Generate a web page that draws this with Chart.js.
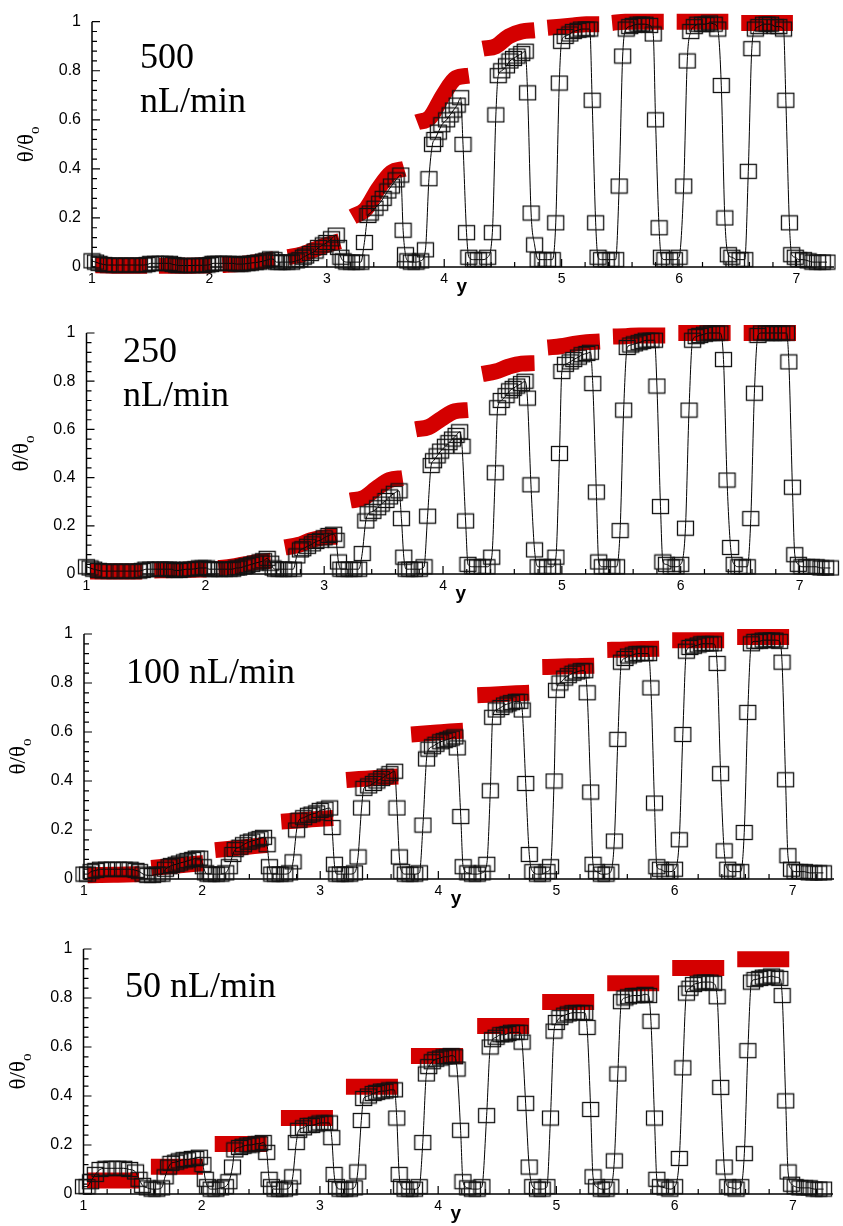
<!DOCTYPE html>
<html>
<head>
<meta charset="utf-8">
<script src="https://cdn.jsdelivr.net/npm/chart.js@4.4.0/dist/chart.umd.min.js"></script>
<style>
  body { margin: 0; background: #fff; }
  #wrap { position: relative; width: 843px; height: 1226px; background: #fff; }
  canvas { position: absolute; left: 0; }
</style>
</head>
<body>
<div id="wrap">
  <canvas id="c500" width="843" height="300" style="top:0px"></canvas>
  <canvas id="c250" width="843" height="310" style="top:300px"></canvas>
  <canvas id="c100" width="843" height="310" style="top:610px"></canvas>
  <canvas id="c50" width="843" height="306" style="top:920px"></canvas>
</div>
<script>
// sample positions along y (shared by all four flow rates), one row per pulse
var position = [
  1.00,1.03,1.06,1.10,1.14,1.19,1.24,1.29,1.34,1.39,1.44,1.47,1.50,1.54,1.58,1.62,1.66,
  1.69,1.72,1.74,1.78,1.81,1.85,1.88,1.92,1.95,1.98,2.01,2.03,2.05,2.08,2.12,2.16,2.20,
  2.23,2.26,2.28,2.32,2.35,2.39,2.42,2.46,2.49,2.52,2.55,2.57,2.59,2.62,2.66,2.70,2.74,
  2.77,2.80,2.82,2.86,2.90,2.93,2.97,3.00,3.04,3.08,3.10,3.12,3.14,3.17,3.21,3.25,3.29,
  3.32,3.35,3.37,3.41,3.45,3.48,3.52,3.55,3.59,3.63,3.65,3.67,3.69,3.72,3.76,3.80,3.84,
  3.87,3.90,3.92,3.95,3.98,4.02,4.05,4.08,4.11,4.14,4.16,4.19,4.21,4.25,4.29,4.33,4.37,
  4.41,4.44,4.46,4.49,4.53,4.56,4.59,4.62,4.66,4.69,4.71,4.74,4.77,4.80,4.84,4.88,4.92,
  4.95,4.98,5.00,5.03,5.07,5.10,5.14,5.17,5.21,5.24,5.26,5.29,5.31,5.34,5.38,5.42,5.46,
  5.49,5.52,5.55,5.58,5.61,5.65,5.68,5.71,5.75,5.78,5.80,5.83,5.85,5.88,5.92,5.96,6.00,
  6.04,6.07,6.10,6.13,6.16,6.20,6.23,6.26,6.30,6.33,6.36,6.39,6.42,6.45,6.49,6.52,6.56,
  6.59,6.62,6.65,6.68,6.72,6.75,6.78,6.82,6.85,6.89,6.91,6.94,6.96,6.99,7.02,7.06,7.10,7.14,7.18,7.22,7.26
];

var theta500 = [
  0.025,0.02,0.015,0.01,0.008,0.008,0.008,0.008,0.008,0.008,0.008,0.01,0.015,0.015,0.015,0.015,0.015,
  0.01,0.008,0.006,0.006,0.006,0.006,0.007,0.007,0.007,0.008,0.01,0.015,0.015,0.015,0.015,0.015,0.015,
  0.012,0.012,0.012,0.014,0.016,0.018,0.02,0.024,0.028,0.033,0.03,0.02,0.02,0.02,0.02,0.02,0.025,
  0.03,0.04,0.045,0.055,0.065,0.08,0.09,0.10,0.115,0.13,0.08,0.04,0.025,0.02,0.02,0.02,0.02,
  0.10,0.21,0.22,0.24,0.26,0.28,0.31,0.33,0.355,0.375,0.15,0.05,0.025,0.02,0.02,0.025,0.07,
  0.36,0.50,0.52,0.55,0.58,0.60,0.62,0.64,0.66,0.69,0.50,0.14,0.04,0.03,0.03,0.03,0.04,
  0.14,0.62,0.78,0.80,0.82,0.84,0.85,0.86,0.87,0.88,0.71,0.22,0.09,0.03,0.03,0.03,0.03,
  0.18,0.75,0.92,0.94,0.95,0.96,0.965,0.97,0.97,0.97,0.68,0.18,0.04,0.03,0.03,0.03,0.03,
  0.33,0.86,0.97,0.98,0.985,0.99,0.99,0.99,0.985,0.95,0.60,0.16,0.04,0.03,0.03,0.03,0.04,
  0.33,0.84,0.96,0.98,0.99,0.99,0.99,0.995,0.99,0.97,0.74,0.20,0.05,0.04,0.03,0.03,0.03,
  0.39,0.89,0.97,0.98,0.99,0.99,0.99,0.98,0.98,0.97,0.68,0.18,0.05,0.04,0.03,0.03,0.025,0.02,0.02,0.02,0.02
];

var theta250 = [
  0.03,0.025,0.02,0.015,0.012,0.012,0.012,0.012,0.012,0.012,0.012,0.015,0.02,0.02,0.02,0.02,0.02,
  0.02,0.02,0.015,0.015,0.018,0.02,0.02,0.022,0.025,0.025,0.025,0.02,0.02,0.02,0.02,0.02,0.02,
  0.02,0.025,0.025,0.03,0.035,0.04,0.045,0.05,0.055,0.065,0.045,0.025,0.02,0.02,0.02,0.02,0.02,
  0.075,0.10,0.105,0.115,0.125,0.135,0.14,0.15,0.16,0.165,0.14,0.05,0.02,0.02,0.02,0.02,0.02,
  0.085,0.22,0.25,0.26,0.275,0.29,0.305,0.32,0.335,0.345,0.23,0.07,0.02,0.02,0.02,0.02,0.03,
  0.24,0.45,0.47,0.49,0.51,0.53,0.545,0.56,0.575,0.59,0.53,0.22,0.04,0.03,0.03,0.03,0.03,
  0.07,0.42,0.69,0.72,0.74,0.76,0.77,0.78,0.79,0.80,0.73,0.37,0.10,0.03,0.03,0.03,0.03,
  0.07,0.50,0.84,0.87,0.88,0.89,0.90,0.91,0.915,0.92,0.79,0.34,0.05,0.03,0.03,0.03,0.03,
  0.18,0.68,0.94,0.95,0.955,0.96,0.965,0.97,0.97,0.97,0.78,0.28,0.05,0.04,0.03,0.03,0.04,
  0.19,0.68,0.97,0.985,0.99,0.995,1.0,1.0,1.0,1.0,0.89,0.39,0.11,0.04,0.03,0.03,0.03,
  0.23,0.75,0.99,1.0,1.0,1.0,1.0,1.0,1.0,1.0,0.88,0.36,0.08,0.04,0.03,0.03,0.03,0.03,0.025,0.025,0.025
];

var theta100 = [
  0.02,0.02,0.03,0.035,0.04,0.04,0.04,0.04,0.04,0.04,0.035,0.03,0.02,0.015,0.015,0.02,0.02,
  0.04,0.05,0.055,0.06,0.065,0.07,0.075,0.08,0.085,0.085,0.05,0.025,0.02,0.02,0.02,0.02,0.025,
  0.05,0.10,0.12,0.13,0.14,0.15,0.155,0.16,0.165,0.17,0.14,0.05,0.02,0.02,0.02,0.02,0.025,
  0.07,0.20,0.24,0.25,0.26,0.265,0.27,0.28,0.285,0.29,0.21,0.06,0.02,0.02,0.02,0.02,0.025,
  0.09,0.29,0.37,0.38,0.39,0.40,0.41,0.42,0.43,0.44,0.29,0.09,0.03,0.02,0.02,0.02,0.025,
  0.22,0.49,0.53,0.54,0.55,0.56,0.565,0.57,0.575,0.58,0.535,0.255,0.05,0.025,0.02,0.02,0.025,
  0.06,0.36,0.66,0.69,0.70,0.71,0.715,0.72,0.725,0.725,0.69,0.39,0.10,0.03,0.02,0.02,0.03,
  0.05,0.40,0.77,0.80,0.82,0.83,0.84,0.845,0.85,0.85,0.76,0.355,0.06,0.03,0.02,0.02,0.03,
  0.155,0.57,0.885,0.90,0.91,0.915,0.92,0.92,0.92,0.92,0.78,0.31,0.05,0.04,0.03,0.03,0.04,
  0.16,0.59,0.93,0.945,0.95,0.955,0.96,0.96,0.96,0.96,0.88,0.43,0.115,0.04,0.03,0.03,0.03,
  0.19,0.68,0.96,0.97,0.97,0.975,0.975,0.975,0.975,0.97,0.885,0.405,0.095,0.04,0.03,0.03,0.03,0.025,0.025,0.025,0.025
];

var theta50 = [
  0.03,0.03,0.05,0.08,0.10,0.105,0.105,0.105,0.105,0.10,0.09,0.06,0.035,0.025,0.02,0.02,0.025,
  0.07,0.11,0.125,0.13,0.135,0.14,0.14,0.145,0.145,0.15,0.12,0.06,0.03,0.02,0.02,0.025,0.03,
  0.05,0.11,0.18,0.19,0.195,0.20,0.20,0.205,0.205,0.21,0.17,0.06,0.03,0.02,0.02,0.02,0.025,
  0.07,0.21,0.26,0.27,0.28,0.28,0.285,0.29,0.29,0.29,0.23,0.08,0.03,0.02,0.02,0.02,0.025,
  0.09,0.30,0.39,0.40,0.41,0.415,0.42,0.42,0.425,0.425,0.31,0.08,0.03,0.02,0.02,0.02,0.03,
  0.21,0.49,0.52,0.54,0.55,0.555,0.56,0.56,0.565,0.56,0.51,0.26,0.05,0.025,0.02,0.02,0.03,
  0.32,0.60,0.63,0.64,0.65,0.65,0.655,0.66,0.66,0.66,0.62,0.37,0.11,0.03,0.02,0.02,0.03,
  0.31,0.665,0.70,0.72,0.73,0.735,0.74,0.74,0.74,0.74,0.68,0.345,0.07,0.03,0.02,0.02,0.03,
  0.135,0.49,0.785,0.80,0.805,0.81,0.81,0.81,0.815,0.81,0.705,0.31,0.06,0.03,0.025,0.02,0.03,
  0.145,0.515,0.82,0.84,0.855,0.86,0.865,0.865,0.865,0.86,0.805,0.435,0.11,0.03,0.025,0.02,0.03,
  0.165,0.585,0.865,0.875,0.88,0.885,0.885,0.89,0.885,0.88,0.81,0.38,0.09,0.04,0.03,0.025,0.025,0.025,0.02,0.02,0.02
];

// model curve: one short band per pulse
var bandPos = [
  [1.03,1.14,1.25,1.36,1.47], [1.57,1.68,1.79,1.90,2.01], [2.11,2.22,2.33,2.44,2.55],
  [2.67,2.78,2.89,3.00,3.11], [3.22,3.33,3.44,3.55,3.66], [3.77,3.88,3.99,4.10,4.21],
  [4.33,4.44,4.55,4.66,4.77], [4.88,4.99,5.10,5.21,5.32], [5.43,5.54,5.65,5.76,5.87],
  [5.98,6.09,6.20,6.31,6.42], [6.53,6.64,6.75,6.86,6.97]
];

var model500 = [
  [0.007,0.006,0.005,0.005,0.005], [0.005,0.005,0.005,0.006,0.007], [0.008,0.011,0.016,0.023,0.032],
  [0.04,0.05,0.07,0.09,0.105], [0.205,0.235,0.32,0.385,0.40], [0.59,0.61,0.70,0.77,0.78],
  [0.89,0.90,0.94,0.96,0.965], [0.975,0.98,0.985,0.99,0.99], [0.995,1.0,1.0,1.0,1.0],
  [1.0,1.0,1.0,1.0,1.0], [0.995,0.995,0.995,0.995,0.995]
];
var model250 = [
  [0.01,0.01,0.01,0.01,0.01], [0.015,0.016,0.017,0.018,0.019], [0.025,0.03,0.04,0.05,0.055],
  [0.11,0.12,0.14,0.152,0.155], [0.305,0.315,0.355,0.39,0.398], [0.60,0.61,0.645,0.675,0.68],
  [0.83,0.84,0.86,0.873,0.875], [0.94,0.945,0.955,0.962,0.965], [0.985,0.987,0.99,0.99,0.99],
  [1.0,1.0,1.0,1.0,1.0], [1.0,1.0,1.0,1.0,1.0]
];
var model100 = [
  [0.015,0.016,0.017,0.018,0.02], [0.045,0.05,0.055,0.06,0.065], [0.118,0.123,0.128,0.134,0.139],
  [0.234,0.238,0.242,0.246,0.249], [0.404,0.408,0.411,0.415,0.418], [0.59,0.594,0.598,0.602,0.605],
  [0.75,0.752,0.755,0.758,0.76], [0.865,0.866,0.868,0.869,0.87], [0.935,0.936,0.938,0.939,0.94],
  [0.975,0.975,0.975,0.975,0.975], [0.988,0.988,0.988,0.988,0.988]
];
var model50 = [
  [0.055,0.055,0.055,0.055,0.055], [0.111,0.111,0.111,0.111,0.111], [0.204,0.204,0.204,0.204,0.204],
  [0.31,0.31,0.31,0.31,0.31], [0.438,0.438,0.438,0.438,0.438], [0.563,0.563,0.563,0.563,0.563],
  [0.686,0.686,0.686,0.686,0.686], [0.784,0.784,0.784,0.784,0.784], [0.86,0.86,0.86,0.86,0.86],
  [0.922,0.922,0.922,0.922,0.922], [0.958,0.958,0.958,0.958,0.958]
];

var yTicks = ['0', '0.2', '0.4', '0.6', '0.8', '1'];

// open square marker
var square = document.createElement('canvas');
square.width = 19;
square.height = 17;
var sctx = square.getContext('2d');
sctx.strokeStyle = '#111';
sctx.lineWidth = 1.3;
sctx.strokeRect(1.5, 1.5, 16, 14);

function toPoints(xs, ys) {
    var pts = [];
    for (var i = 0; i < xs.length; i++) {
        pts.push({x: xs[i], y: ys[i]});
    }
    return pts;
}

function toBands(segs, vals) {
    var pts = [];
    for (var s = 0; s < segs.length; s++) {
        for (var j = 0; j < segs[s].length; j++) {
            pts.push({x: segs[s][j], y: vals[s][j]});
        }
        pts.push({x: segs[s][segs[s].length - 1] + 0.01, y: null}); // break between bands
    }
    return pts;
}

// axes, inward ticks, titles and the flow-rate label
const frame = {
    id: 'frame',
    beforeDatasetsDraw(chart, args, opts) {
        const {ctx, chartArea: {left, right, top, bottom}, scales: {x, y}} = chart;
        ctx.save();
        ctx.strokeStyle = '#000';
        ctx.lineWidth = 1.5;
        ctx.beginPath();
        ctx.moveTo(left, top);
        ctx.lineTo(left, bottom);
        ctx.lineTo(right, bottom);
        ctx.stroke();

        ctx.lineWidth = 1.2;
        ctx.beginPath();
        for (var i = 0; i <= 25; i++) {
            var py = y.getPixelForValue(i * 0.04);
            var len = (i % 5 == 0) ? 8 : 5;
            ctx.moveTo(left, py);
            ctx.lineTo(left + len, py);
        }
        for (var k = 0; 1 + k * 0.2 <= x.max; k++) {
            var px = x.getPixelForValue(1 + k * 0.2);
            var l2 = (k % 5 == 0) ? 8 : 5;
            ctx.moveTo(px, bottom);
            ctx.lineTo(px, bottom - l2);
        }
        ctx.stroke();

        // x title
        ctx.fillStyle = '#000';
        ctx.font = 'bold 19px "Liberation Sans", Arial, sans-serif';
        ctx.textAlign = 'center';
        ctx.textBaseline = 'alphabetic';
        ctx.fillText('y', x.getPixelForValue(4.15), bottom + 25);

        // y title θ/θo
        ctx.translate(left - 59, (top + bottom) / 2);
        ctx.rotate(-Math.PI / 2);
        ctx.font = '23px "Liberation Serif", "Times New Roman", serif';
        var w1 = ctx.measureText('θ/θ').width;
        ctx.font = '15px "Liberation Serif", "Times New Roman", serif';
        var w2 = ctx.measureText('o').width;
        ctx.textAlign = 'left';
        ctx.font = '23px "Liberation Serif", "Times New Roman", serif';
        ctx.fillText('θ/θ', -(w1 + w2) / 2, 0);
        ctx.font = '15px "Liberation Serif", "Times New Roman", serif';
        ctx.fillText('o', -(w1 + w2) / 2 + w1, 6);
        ctx.restore();

        ctx.save();
        ctx.fillStyle = '#000';
        ctx.font = '36px "Liberation Serif", "Times New Roman", serif';
        ctx.textAlign = 'left';
        for (var n = 0; n < opts.lines.length; n++) {
            ctx.fillText(opts.lines[n], opts.lx, opts.ly + n * 44);
        }
        ctx.restore();
    }
};

function Panel(canvasId, theta, model, layout) {
    var config = {
        type: 'line',
        data: {
            datasets: [{
                data: toPoints(position, theta),
                borderColor: '#000',
                borderWidth: 1,
                pointStyle: square,
                pointRadius: 8,
                pointHoverRadius: 8,
                cubicInterpolationMode: 'monotone',
                clip: false,
                order: 0
            }, {
                data: toBands(bandPos, model),
                borderColor: '#d40000',
                borderWidth: 16,
                borderCapStyle: 'butt',
                borderJoinStyle: 'round',
                pointRadius: 0,
                spanGaps: false,
                cubicInterpolationMode: 'monotone',
                clip: false,
                order: 1
            }]
        },
        options: {
            responsive: false,
            animation: false,
            events: [],
            devicePixelRatio: 1,
            layout: {padding: {top: layout.top, left: 0, right: layout.padRight, bottom: 0}},
            plugins: {
                legend: {display: false},
                tooltip: {enabled: false},
                frame: {lines: layout.lines, lx: layout.lx, ly: layout.ly}
            },
            scales: {
                x: {
                    type: 'linear',
                    min: 1,
                    max: layout.xMax,
                    grid: {display: false, drawTicks: false},
                    border: {display: false},
                    ticks: {
                        stepSize: 1,
                        includeBounds: false,
                        autoSkip: false,
                        maxRotation: 0,
                        padding: 4,
                        color: '#000',
                        font: {family: '"Liberation Sans", Arial, sans-serif', size: 14}
                    },
                    afterFit: function(scale) { scale.height = layout.axisH; }
                },
                y: {
                    type: 'linear',
                    min: 0,
                    max: 1,
                    grid: {display: false, drawTicks: false},
                    border: {display: false},
                    ticks: {
                        stepSize: 0.2,
                        padding: 11,
                        color: '#000',
                        font: {family: '"Liberation Sans", Arial, sans-serif', size: 16},
                        callback: function(v) { return yTicks[Math.round(v * 5)]; }
                    },
                    afterFit: function(scale) { scale.width = layout.left; }
                }
            }
        },
        plugins: [frame]
    };
    return new Chart(document.getElementById(canvasId).getContext('2d'), config);
}

Panel('c500', theta500, model500, {top: 21.7, left: 92, padRight: 3, axisH: 33, xMax: 7.32, lines: ['500', 'nL/min'], lx: 140, ly: 68});
Panel('c250', theta250, model250, {top: 33, left: 86.5, padRight: 0, axisH: 36, xMax: 7.29, lines: ['250', 'nL/min'], lx: 123, ly: 62});
Panel('c100', theta100, model100, {top: 24, left: 84, padRight: 8, axisH: 41, xMax: 7.35, lines: ['100 nL/min'], lx: 126, ly: 73});
Panel('c50', theta50, model50, {top: 29, left: 83.5, padRight: 10, axisH: 32, xMax: 7.34, lines: ['50 nL/min'], lx: 125, ly: 77});
</script>
</body>
</html>
